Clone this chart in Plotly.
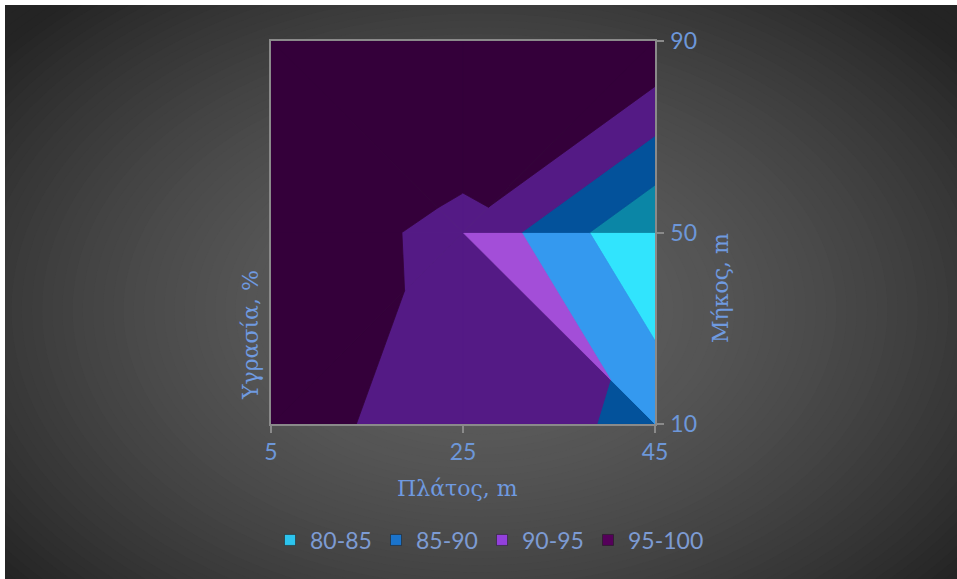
import plotly.graph_objects as go

# Grid of measurements: humidity (%) over width (Πλάτος) × length (Μήκος)
width_m = [5, 25, 45]
length_m = [10, 50, 90]
humidity = [            # rows follow length_m, columns follow width_m
    [96.6, 93.0, 88.7],
    [96.5, 94.3, 80.2],
    [99.7, 97.7, 99.6],
]
band_labels = ["80-85", "85-90", "90-95", "95-100"]
band_edges = [80, 85, 90, 95, 100]

# Band colours: normal facets, brightly lit facets, legend swatches
shade_dim = ["#0b86a6", "#03529b", "#541a85", "#34003a"]
shade_lit = ["#31e4fd", "#3499ef", "#a34ed8", "#4a0856"]
swatch = ["#2cc4ee", "#1b74cc", "#9340dc", "#55005a"]
LIT_FACETS = {(1, 0, 1)}   # (cell i, cell j, triangle index)

W, H = 957, 579
L, R, T, B = 271, 655, 41, 424          # plot area in pixels


def px(xp):
    return (xp - L) / (R - L)


def py(yp):
    return (B - yp) / (B - T)


def clip(poly, level, keep_above):
    """Sutherland-Hodgman clip of a (x, y, z) polygon against z = level."""
    out = []
    n = len(poly)
    for k in range(n):
        a, b = poly[k], poly[(k + 1) % n]
        ina = a[2] >= level if keep_above else a[2] <= level
        inb = b[2] >= level if keep_above else b[2] <= level
        if ina:
            out.append(a)
        if ina != inb:
            t = (level - a[2]) / (b[2] - a[2])
            out.append(tuple(a[m] + t * (b[m] - a[m]) for m in range(3)))
    return out


def node(i, j):
    return (width_m[i], length_m[j], humidity[j][i])


def facets():
    for i in range(len(width_m) - 1):
        for j in range(len(length_m) - 1):
            if (i + j) % 2 == 0:
                tris = [[(i, j), (i + 1, j), (i + 1, j + 1)],
                        [(i, j), (i + 1, j + 1), (i, j + 1)]]
            else:
                tris = [[(i, j), (i + 1, j), (i, j + 1)],
                        [(i + 1, j), (i + 1, j + 1), (i, j + 1)]]
            for k, tri in enumerate(tris):
                yield (i, j, k), [node(*p) for p in tri]


fig = go.Figure()

for key, tri in facets():
    palette = shade_lit if key in LIT_FACETS else shade_dim
    for b in range(len(band_labels)):
        lo, hi = band_edges[b], band_edges[b + 1]
        poly = clip(clip(tri, lo, True), hi, False)
        if len(poly) < 3:
            continue
        xs = [p[0] for p in poly] + [poly[0][0]]
        ys = [p[1] for p in poly] + [poly[0][1]]
        fig.add_trace(go.Scatter(
            x=xs, y=ys, mode="lines", fill="toself",
            fillcolor=palette[b], line=dict(color=palette[b], width=0.8),
            showlegend=False, hoverinfo="skip",
        ))

# Legend swatches: the first three share one evenly spaced legend,
# the wider last label gets its own so it is not cut off.
for b, lab in enumerate(band_labels):
    fig.add_trace(go.Scatter(
        x=[None], y=[None], mode="markers", name=lab,
        legend="legend" if b < 3 else "legend2",
        marker=dict(symbol="square", size=11, color=swatch[b],
                    line=dict(color="#1a1a1a", width=0.5)),
    ))

# Background: white rim, dark radial gradient
shapes = [dict(type="rect", xref="paper", yref="paper",
               x0=px(5), x1=px(W + 10), y0=py(H + 10), y1=py(5),
               fillcolor="#232323", line=dict(width=0), layer="below")]
cx, cy, RX, RY = 480, 310, 620, 420
N = 70
for k in range(N):
    r = 1.15 * (1 - k / N)
    g = int(round(max(35, 96 - 60 * min(r, 1.0) ** 1.7)))
    shapes.append(dict(
        type="circle", xref="paper", yref="paper",
        x0=px(cx - RX * r), x1=px(cx + RX * r),
        y0=py(cy + RY * r), y1=py(cy - RY * r),
        fillcolor=f"rgb({g},{g},{g})", line=dict(width=0), layer="below"))
shapes.append(dict(type="rect", xref="paper", yref="paper",
                   x0=px(-10), x1=px(5), y0=py(H + 10), y1=py(-10),
                   fillcolor="white", line=dict(width=0), layer="below"))
shapes.append(dict(type="rect", xref="paper", yref="paper",
                   x0=px(-10), x1=px(W + 10), y0=py(5), y1=py(-10),
                   fillcolor="white", line=dict(width=0), layer="below"))

tick_font = dict(family="Lato", size=23, color="#6d97d9")
title_font = dict(family="DejaVu Serif", size=22, color="#6f9ae0")
legend_font = dict(family="Lato", size=23, color="#7d9bd3")
axis_common = dict(showgrid=False, zeroline=False, showline=True,
                   linecolor="#8a8a8a", linewidth=1.5, mirror=True,
                   ticks="outside", ticklen=7, tickcolor="#8a8a8a",
                   tickwidth=1.5, tickfont=tick_font, fixedrange=True,
                   automargin=False)
legend_common = dict(orientation="h", xref="container", yref="container",
                     xanchor="left", y=1 - 540 / H, yanchor="middle",
                     bgcolor="rgba(0,0,0,0)", font=legend_font,
                     itemwidth=30, traceorder="normal")

fig.update_layout(
    width=W, height=H,
    margin=dict(l=L, r=W - R, t=T, b=H - B, pad=0, autoexpand=False),
    paper_bgcolor="white", plot_bgcolor="rgba(0,0,0,0)",
    shapes=shapes,
    xaxis=dict(range=[width_m[0], width_m[-1]], tickvals=width_m,
               ticktext=[str(v) for v in width_m], ticklabelstandoff=0,
               **axis_common),
    yaxis=dict(range=[length_m[0], length_m[-1]], tickvals=length_m,
               ticktext=[str(v) for v in length_m], side="right",
               ticklabelstandoff=2, **axis_common),
    showlegend=True,
    legend=dict(x=270 / W, entrywidth=61, **legend_common),
    legend2=dict(x=588 / W, **legend_common),
    annotations=[
        dict(text="Πλάτος, m", xref="paper", yref="paper",
             x=px(457), y=py(488), showarrow=False, font=title_font,
             xanchor="center", yanchor="middle"),
        dict(text="Υγρασία, %", xref="paper", yref="paper",
             x=px(250), y=py(335), showarrow=False, font=title_font,
             textangle=-90, xanchor="center", yanchor="middle"),
        dict(text="Μήκος, m", xref="paper", yref="paper",
             x=px(720), y=py(288), showarrow=False, font=title_font,
             textangle=-90, xanchor="center", yanchor="middle"),
    ],
)

fig.write_html("out.html")
